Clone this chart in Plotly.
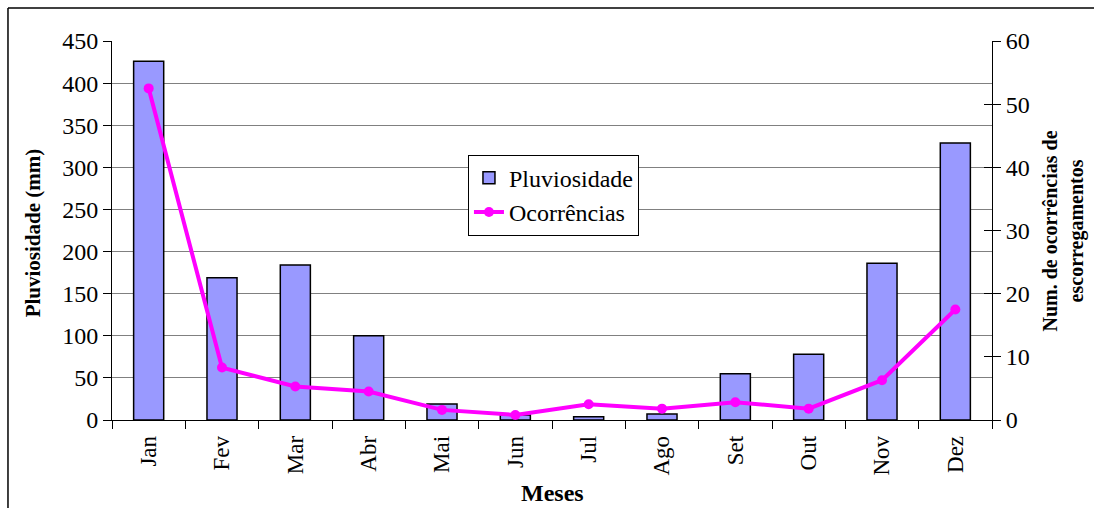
import plotly.graph_objects as go

# Monthly rainfall and average landslide occurrences
meses = ["Jan", "Fev", "Mar", "Abr", "Mai", "Jun", "Jul", "Ago", "Set", "Out", "Nov", "Dez"]
pluviosidade = [426, 169, 184, 100, 19, 6, 4, 7, 55, 78, 186, 329]
ocorrencias = [52.5, 8.3, 5.3, 4.5, 1.6, 0.8, 2.5, 1.8, 2.8, 1.8, 6.3, 17.5]

left_ticks = [0, 50, 100, 150, 200, 250, 300, 350, 400, 450]
right_ticks = [0, 10, 20, 30, 40, 50, 60]

FONT = "Liberation Serif, Times New Roman, serif"
GAP = "\u00a0"  # non-breaking space used as label padding

fig = go.Figure()

fig.add_trace(go.Bar(
    x=meses, y=pluviosidade, name="Pluviosidade",
    width=0.41,
    marker=dict(color="#9999FF", line=dict(color="black", width=1.5)),
    yaxis="y",
))

fig.add_trace(go.Scatter(
    x=meses, y=ocorrencias, name="Ocorrências",
    mode="lines+markers",
    line=dict(color="#FF00FF", width=4),
    marker=dict(color="#FF00FF", size=10),
    yaxis="y2",
))

# helper trace so the inner tick marks of the right axis get drawn
fig.add_trace(go.Scatter(
    x=meses, y=ocorrencias, yaxis="y3", mode="lines",
    line=dict(width=0), showlegend=False, hoverinfo="skip", opacity=0,
))

fig.update_layout(
    width=1094, height=508,
    margin=dict(l=112, r=102, t=41, b=88),
    paper_bgcolor="white", plot_bgcolor="white",
    font=dict(family=FONT, size=22, color="black"),
    showlegend=True,
    legend=dict(
        x=0.4045, y=0.70, xanchor="left", yanchor="top",
        bgcolor="white", bordercolor="black", borderwidth=1,
        font=dict(family=FONT, size=24, color="black"),
        tracegroupgap=0,
    ),
    xaxis=dict(
        type="category", range=[-0.5, 11.5],
        tickson="boundaries", ticks="outside", ticklen=8, tickcolor="black",
        showline=True, linecolor="black", linewidth=1,
        tickangle=-90, tickfont=dict(family=FONT, size=23),
        ticksuffix=GAP,
        showgrid=False,
    ),
    yaxis=dict(
        range=[0, 450], tickvals=left_ticks,
        ticks="outside", ticklen=8, tickcolor="black",
        showline=True, linecolor="black", linewidth=1,
        showgrid=True, gridcolor="#808080", gridwidth=1,
        zeroline=False, tickfont=dict(family=FONT, size=24),
        ticksuffix=GAP,
    ),
    yaxis2=dict(
        range=[0, 60], tickvals=right_ticks,
        overlaying="y", side="right",
        ticks="outside", ticklen=8, tickcolor="black",
        showline=True, linecolor="black", linewidth=1,
        showgrid=False, zeroline=False,
        tickfont=dict(family=FONT, size=24),
        tickprefix=GAP,
    ),
    yaxis3=dict(
        range=[0, 60], tickvals=right_ticks,
        overlaying="y", side="right", anchor="x",
        ticks="inside", ticklen=8, tickcolor="black",
        showticklabels=False, showline=False,
        showgrid=False, zeroline=False,
    ),
    annotations=[
        dict(text="<b>Pluviosidade (mm)</b>", xref="paper", yref="paper",
             x=-0.0898, y=0.495, xanchor="center", yanchor="middle",
             textangle=-90, showarrow=False,
             font=dict(family=FONT, size=21)),
        dict(text="<b>Num. de ocorrências de<br>escorregamentos</b>",
             xref="paper", yref="paper", x=1.0818, y=0.50,
             xanchor="center", yanchor="middle", textangle=-90,
             showarrow=False, font=dict(family=FONT, size=20)),
        dict(text="<b>Meses</b>", xref="paper", yref="paper",
             x=0.5, y=-0.1926, xanchor="center", yanchor="middle",
             showarrow=False, font=dict(family=FONT, size=24)),
    ],
    shapes=[
        dict(type="line", xref="paper", yref="paper",
             x0=-0.1182, x1=-0.1182, y0=-0.3, y1=1.0871,
             line=dict(color="black", width=1.5)),
        dict(type="line", xref="paper", yref="paper",
             x0=-0.1182, x1=1.2, y0=1.0871, y1=1.0871,
             line=dict(color="black", width=1.5)),
    ],
)

fig.write_html("out.html")
